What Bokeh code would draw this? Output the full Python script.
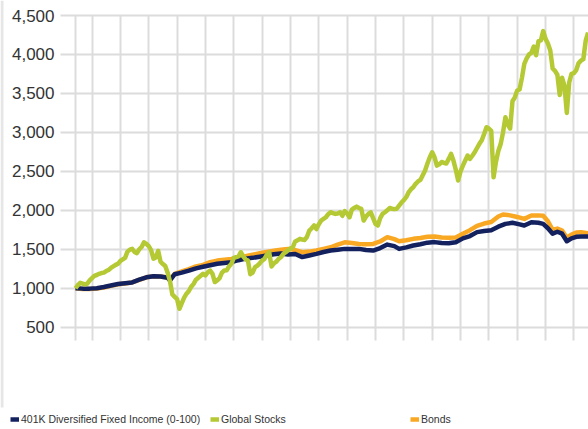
from bokeh.plotting import figure
from bokeh.models import FixedTicker, Legend, LegendItem, Range1d, BoxAnnotation
from bokeh.core.properties import value
from bokeh.embed import file_html
from bokeh.resources import INLINE

# ---- data (growth of 1,000; monthly offsets from June 2005) ----
START_YEAR = 2005
START_MONTH = 6

stocks_values = [
    1000, 1040, 1070, 1060, 1050, 1060, 1100, 1130, 1160, 1170, 1185, 1195,
    1200, 1220, 1235, 1260, 1280, 1300, 1315, 1350, 1370, 1390, 1470, 1495,
    1505, 1465, 1450, 1500, 1530, 1590, 1570, 1540, 1490, 1380, 1395, 1480,
    1340, 1310, 1285, 1200, 1090, 920, 890, 860, 736, 810, 880, 930,
    965, 1020, 1056, 1110, 1135, 1160, 1185, 1165, 1205, 1227, 1185, 1080,
    1100, 1130, 1200, 1227, 1230, 1280, 1313, 1390, 1400, 1410, 1462, 1410,
    1370, 1355, 1180, 1200, 1270, 1290, 1320, 1355, 1377, 1430, 1460, 1280,
    1320, 1340, 1377, 1400, 1441, 1462, 1490, 1510, 1526, 1600, 1615, 1634,
    1625, 1620, 1660, 1740, 1770, 1805, 1760, 1820, 1869, 1890, 1911, 1950,
    1975, 1965, 1954, 1960, 1975, 1930, 1990, 1960, 1911, 2010, 2030, 2048,
    2030, 2018, 1869, 1920, 1954, 1975, 1900, 1826, 1805, 1900, 1954, 1975,
    2000, 2030, 2020, 2015, 2020, 2061, 2100, 2130, 2168, 2230, 2270, 2296,
    2340, 2370, 2390, 2450, 2510, 2600, 2680, 2745, 2680, 2574, 2590, 2620,
    2610, 2600, 2660, 2724, 2638, 2520, 2382, 2500, 2574, 2640, 2702, 2660,
    2700, 2745, 2800, 2853, 2900, 2980, 3066, 3050, 3020, 2424, 2620, 2760,
    2850, 3000, 3194, 3100, 3050, 3400, 3450, 3537, 3550, 3700, 3880, 3950,
    4000, 4020, 4100, 3990, 4170, 4180, 4300, 4200, 4140, 4050, 3820, 3790,
    3740, 3480, 3700, 3600, 3250, 3640, 3750, 3760, 3800, 3890, 3920, 3940,
    4178, 4280,
]
stocks_months = list(range(len(stocks_values)))

fixed_income_months = [
    0, 3, 6, 9, 12, 15, 18, 21, 24, 27, 30, 33, 36, 39, 40, 42, 45, 48, 51, 54,
    57, 60, 63, 66, 69, 72, 75, 78, 81, 84, 87, 90, 93, 96, 99, 102, 105, 108,
    111, 114, 117, 120, 123, 126, 129, 132, 135, 137, 140, 143, 146, 149, 152,
    155, 158, 161, 164, 167, 170, 173, 176, 179, 182, 185, 188, 190, 193, 196,
    198, 200, 202, 204, 206, 208, 210, 212, 214, 217,
]
fixed_income_values = [
    1000, 995, 995, 1000, 1015, 1035, 1055, 1065, 1075, 1110, 1140, 1155, 1150,
    1135, 1100, 1180, 1200, 1225, 1255, 1275, 1295, 1315, 1325, 1335, 1360,
    1380, 1390, 1405, 1420, 1435, 1445, 1432, 1440, 1400, 1420, 1441, 1465,
    1484, 1495, 1505, 1505, 1505, 1490, 1484, 1515, 1560, 1540, 1505, 1525,
    1548, 1565, 1585, 1592, 1580, 1577, 1590, 1640, 1670, 1720, 1735, 1745,
    1790, 1826, 1840, 1820, 1805, 1847, 1840, 1826, 1770, 1700, 1725, 1700,
    1603, 1640, 1660, 1663, 1665,
]

bonds_months = [
    0, 3, 6, 9, 12, 15, 18, 21, 24, 27, 30, 33, 36, 39, 40, 42, 45, 48, 51, 54,
    57, 60, 63, 66, 69, 72, 75, 78, 81, 84, 87, 90, 93, 96, 99, 102, 105, 108,
    111, 114, 117, 120, 123, 126, 129, 132, 135, 137, 140, 143, 146, 149, 152,
    155, 158, 161, 164, 167, 170, 173, 176, 179, 181, 184, 187, 190, 193, 196,
    198, 200, 202, 204, 206, 208, 210, 212, 214, 217,
]
bonds_values = [
    1000, 990, 990, 995, 1010, 1030, 1050, 1062, 1075, 1108, 1140, 1152, 1150,
    1138, 1110, 1185, 1215, 1245, 1280, 1300, 1335, 1355, 1365, 1377, 1395,
    1410, 1430, 1449, 1465, 1480, 1495, 1505, 1490, 1462, 1470, 1484, 1505,
    1526, 1560, 1590, 1580, 1569, 1565, 1569, 1600, 1655, 1630, 1603, 1615,
    1634, 1645, 1660, 1665, 1650, 1647, 1650, 1700, 1745, 1800, 1830, 1850,
    1920, 1946, 1935, 1915, 1890, 1933, 1935, 1930, 1860, 1750, 1765, 1740,
    1647, 1690, 1715, 1720, 1705,
]

series_names = ["401K Diversified Fixed Income (0-100)", "Global Stocks", "Bonds"]
series_colors = ["#13225f", "#b5c934", "#f9a824"]
y_ticks = [500, 1000, 1500, 2000, 2500, 3000, 3500, 4000, 4500]
y_tick_labels = ["500", "1,000", "1,500", "2,000", "2,500", "3,000", "3,500", "4,000", "4,500"]
year_ticks = list(range(2006, 2024))


def to_year(m):
    return START_YEAR + (START_MONTH - 1 + m) / 12.0


# ---- layout (pixels) ----
W, H = 588, 429
PLOT_LEFT, PLOT_TOP, PLOT_BOTTOM = 60, 15, 340
FIRST_PX, LAST_GRID_PX = 75, 573.4
Y_TOP_TICK_PX, Y_BOTTOM_TICK_PX = 15, 326.7

px_per_year = (LAST_GRID_PX - FIRST_PX) / (year_ticks[-1] - to_year(0))
x_start = to_year(0) - FIRST_PX / px_per_year
x_end = x_start + W / px_per_year
units_per_px = (y_ticks[-1] - y_ticks[0]) / (Y_BOTTOM_TICK_PX - Y_TOP_TICK_PX)
y_end = y_ticks[-1] + Y_TOP_TICK_PX * units_per_px
y_start = y_end - H * units_per_px


def px_to_x(px):
    return x_start + px / px_per_year


def px_to_y(py):
    return y_end - py * units_per_px


p = figure(
    width=W, height=H,
    x_range=Range1d(x_start, x_end), y_range=Range1d(y_start, y_end),
    x_axis_location=None, y_axis_location=None,
    output_backend="svg", toolbar_location=None,
    min_border=0,
    background_fill_color="white", border_fill_color="white",
)
p.outline_line_color = None

# thin grey page edge on the left
p.add_layout(BoxAnnotation(left=px_to_x(0), right=px_to_x(3), top=px_to_y(0), bottom=px_to_y(407),
                           fill_color="#e6e6e6", fill_alpha=1, line_color=None, level="underlay"))

p.xgrid.ticker = FixedTicker(ticks=[to_year(0)] + year_ticks)
p.xgrid.grid_line_color = "#dcdcdc"
p.xgrid.grid_line_width = 2
p.xgrid.cross_bounds = (px_to_y(PLOT_BOTTOM), y_ticks[-1])

p.ygrid.ticker = FixedTicker(ticks=y_ticks)
p.ygrid.grid_line_color = "#dcdcdc"
p.ygrid.grid_line_width = 2
p.ygrid.cross_bounds = (px_to_x(PLOT_LEFT), x_end)

r_bonds = p.line([to_year(m) for m in bonds_months], bonds_values,
                 line_color=series_colors[2], line_width=4.5, line_join="round")
r_fixed = p.line([to_year(m) for m in fixed_income_months], fixed_income_values,
                 line_color=series_colors[0], line_width=4.5, line_join="round")
r_stocks = p.line([to_year(m) for m in stocks_months], stocks_values,
                  line_color=series_colors[1], line_width=4.5, line_join="round")

# y tick labels
p.text(x=[px_to_x(PLOT_LEFT - 6)] * len(y_ticks), y=y_ticks, text=y_tick_labels,
       text_align="right", text_baseline="middle",
       text_font=value("Liberation Sans"), text_font_size="17px",
       text_color="#333333")

legend = Legend(
    items=[
        LegendItem(label=series_names[0], renderers=[r_fixed]),
        LegendItem(label=series_names[1], renderers=[r_stocks]),
        LegendItem(label=series_names[2], renderers=[r_bonds]),
    ],
    orientation="horizontal",
    location=(10, 4),
    padding=0, margin=0, spacing=0,
    glyph_width=9, glyph_height=12, label_height=12,
    label_width=189, label_standoff=2,
    label_text_font="Liberation Sans",
    label_text_font_size="10.5px",
    label_text_color="#333333",
    border_line_color=None,
    background_fill_alpha=0,
)
p.add_layout(legend, "center")

open("out.html", "w").write(file_html(p, INLINE))
